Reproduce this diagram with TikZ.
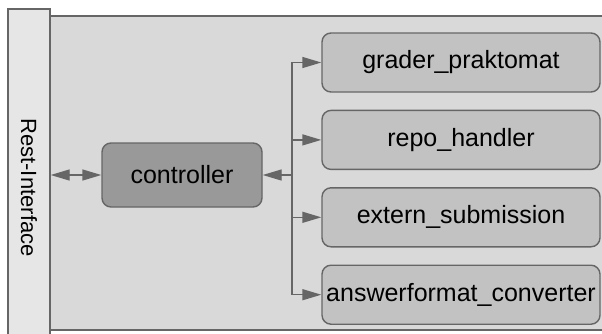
\documentclass[tikz,border=0pt]{standalone}
\usepackage{fontspec}
\setmainfont{Liberation Sans}
\usetikzlibrary{positioning}
\usetikzlibrary{arrows.meta}

\definecolor{edgegray}{HTML}{666666}
\definecolor{stripgray}{HTML}{E6E6E6}
\definecolor{panelgray}{HTML}{D9D9D9}
\definecolor{modgray}{HTML}{C2C2C2}
\definecolor{ctrlgray}{HTML}{999999}

\begin{document}
\begin{tikzpicture}[
    x=1pt, y=-1pt,
    module/.style={rectangle, rounded corners=9pt, draw=edgegray, line width=1.4pt, fill=modgray,
        minimum width=278pt, minimum height=59pt, inner sep=0pt, font=\fontsize{25}{29}\selectfont},
    core/.style={module, fill=ctrlgray, minimum width=160pt, minimum height=64pt},
    link/.style={draw=edgegray, line width=1.4pt, -{Triangle[length=19pt,width=11pt]}},
    node distance=17pt,
]
    \useasboundingbox (0,0) rectangle (602,333);

    \draw[draw=edgegray, line width=1.4pt, fill=panelgray] (50,16) rectangle (640,330);
    \node[rectangle, draw=edgegray, line width=1.4pt, fill=stripgray, rotate=-90,
        minimum width=357pt, minimum height=42pt, inner sep=0pt,
        font=\fontsize{22}{26}\selectfont] (rest) at (29,187.5) {Rest-Interface};

    \node[core] (ctrl) at (182,175) {controller};

    \node[module] (grader) at (461,62.5) {grader\_praktomat};
    \node[module] (repo) [below=of grader] {repo\_handler};
    \node[module] (extern) [below=of repo] {extern\_submission};
    \node[module] (conv) [below=of extern] {answerformat\_converter};

    \coordinate (bus) at (292,175);

    \draw[link, {Triangle[length=19pt,width=11pt]}-{Triangle[length=19pt,width=11pt]}] (rest.north |- ctrl) -- (ctrl.west);
    \draw[link] (bus) -- (ctrl.east);
    \draw[link] (bus) |- (grader.west);
    \draw[link] (bus) |- (repo.west);
    \draw[link] (bus) |- (extern.west);
    \draw[link] (bus) |- (conv.west);
\end{tikzpicture}
\end{document}
